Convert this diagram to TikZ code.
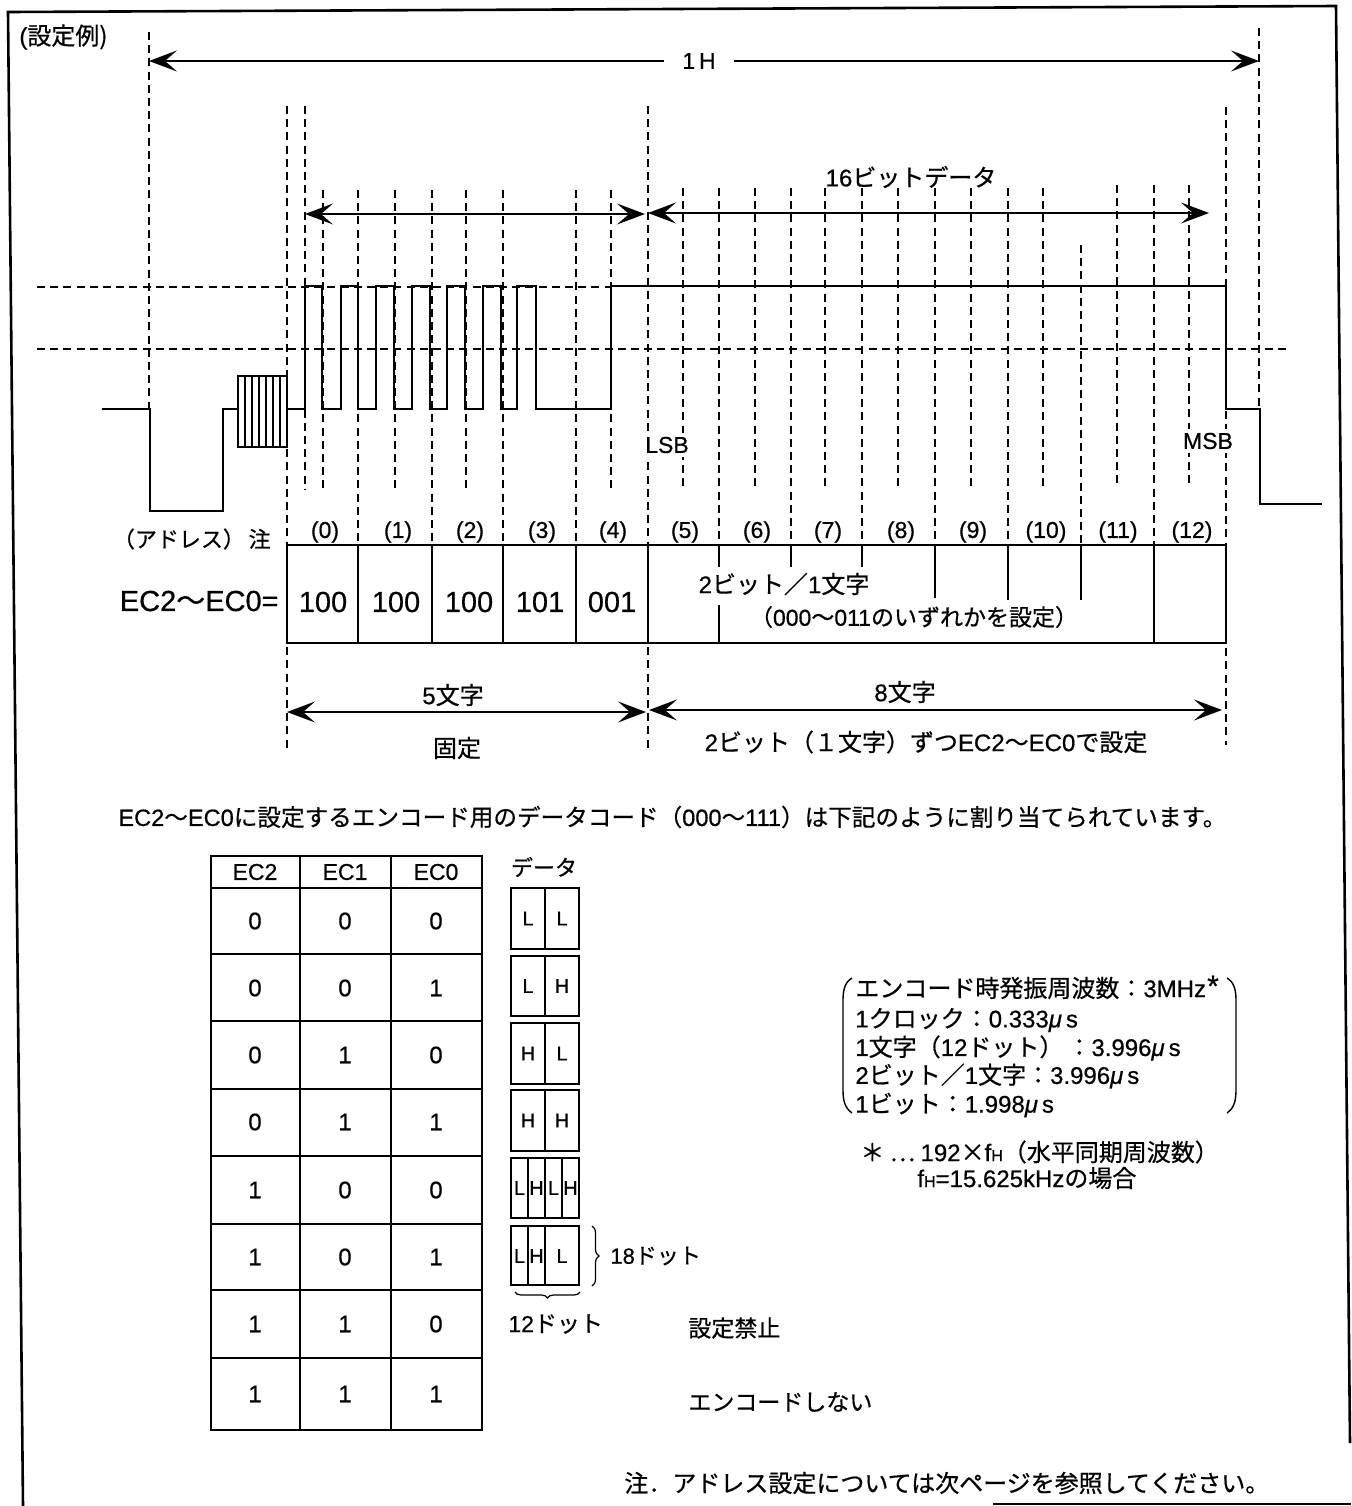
\documentclass[tikz,border=0pt]{standalone}
\usepackage{fontspec}
\setmainfont[FakeBold=0.6]{Liberation Sans}
\newfontfamily\jp[FakeBold=0.6]{Noto Sans CJK JP}
\usetikzlibrary{arrows.meta,decorations.pathreplacing}
\newcommand\fz[1]{\fontsize{#1pt}{#1pt}\selectfont}
\begin{document}
\begin{tikzpicture}[x=0.5pt,y=-0.5pt,
  dsh/.style={line width=0.7pt, dash pattern=on 4pt off 2.6pt},
  wave/.style={line width=1.4pt, line join=miter},
  arr/.style={line width=0.9pt, {Stealth[length=14pt,width=10.5pt,inset=6pt]}-{Stealth[length=14pt,width=10.5pt,inset=6pt]}},
  arrone/.style={line width=0.9pt, -{Stealth[length=14pt,width=10.5pt,inset=6pt]}},
  tbl/.style={line width=1.1pt},
  txt/.style={inner sep=0pt, font=\fz{12}},
  jtxt/.style={inner sep=0pt, font=\jp\fz{12}},
  cell/.style={inner sep=0pt, font=\fz{10}}]
\useasboundingbox (0,0) rectangle (1351,1506);

% frame
\draw[line width=1.3pt] (23,1506) -- (8,12) -- (1336,6) -- (1350,1443);
\draw[line width=1.3pt] (993,1504) -- (1351,1504);

\node[txt, anchor=west] (title) at (19,37) {(\jp 設定例)};

% dashed vertical grid
\foreach \x/\a/\b in {149/32/409, 287/106/750, 305/106/490, 323/190/490, 358/190/545,
  395/190/490, 432/190/545, 466/190/490, 503/190/545, 576/190/545, 611/190/490,
  648/106/752, 683/188/488, 719/188/545, 755/188/488, 791/188/545, 825/188/488,
  862/188/545, 898/188/488, 935/188/545, 971/188/488, 1008/188/545, 1043/188/488,
  1081/245/545, 1117/185/488, 1154/185/545, 1189/185/488, 1226/107/745, 1259/28/409}
  \draw[dsh] (\x,\a) -- (\x,\b);

% horizontal dashed levels
\draw[dsh] (37,287) -- (611,287);
\draw[dsh] (37,349) -- (1287,349);

% waveform
\draw[wave] (102,409) -- (150,409) -- (150,511) -- (223,511) -- (223,409) -- (238,409);
\draw[wave] (238,376) rectangle (287,447);
\foreach \x in {245,252,259,266,273,280} \draw[line width=0.8pt] (\x,376) -- (\x,447);
\draw[wave] (287,409) -- (305,409) -- (305,286) -- (322,286) -- (322,409)
  -- (341,409) -- (341,286) -- (358,286) -- (358,409)
  -- (376,409) -- (376,286) -- (394,286) -- (394,409)
  -- (412,409) -- (412,286) -- (430,286) -- (430,409)
  -- (447,409) -- (447,286) -- (465,286) -- (465,409)
  -- (483,409) -- (483,286) -- (501,286) -- (501,409)
  -- (517,409) -- (517,286) -- (536,286) -- (536,409)
  -- (611,409) -- (611,286) -- (1226,286) -- (1226,409)
  -- (1260,409) -- (1260,504) -- (1322,504);

% 1H arrow
\node[inner xsep=9pt, inner ysep=0pt, font=\fz{11.5}] (h1) at (699,61) {1\,H};
\draw[arrone] (h1.west) -- (149,61);
\draw[arrone] (h1.east) -- (1259,61);

% 16 bit data
\node[txt] (sixteen) at (911,177) {16{\jp ビットデータ}};
\draw[arr] (305,214) -- (645,214);
\draw[arr] (648,213) -- (1209,213);

\node[fill=white, inner xsep=1pt, inner ysep=2pt, font=\fz{11.5}] (lsb) at (667,445) {LSB};
\node[fill=white, inner xsep=1pt, inner ysep=2pt, font=\fz{11.5}] (msb) at (1208,441) {MSB};

% EC row
\node[inner sep=0pt, font=\jp\fz{11}, anchor=east] (addr) at (271,539) {（アドレス）\,注};
\node[inner sep=0pt, font=\fz{14.5}, anchor=east] (eclbl) at (279,601) {EC2{\jp 〜}EC0=};

\draw[tbl] (287,545) rectangle (1226,643);
\foreach \x in {358,432,503,576,648,1154} \draw[tbl] (\x,545) -- (\x,643);
\draw[tbl] (719,545) -- (719,567);
\draw[tbl] (719,605) -- (719,643);
\draw[tbl] (791,545) -- (791,567);
\draw[tbl] (862,545) -- (862,567);
\draw[tbl] (935,545) -- (935,598);
\draw[tbl] (1008,545) -- (1008,600);
\draw[tbl] (1081,545) -- (1081,600);

\foreach \i/\x in {0/325,1/398,2/470,3/542,4/613,5/685,6/757,7/828,8/901,9/973,10/1046,11/1118,12/1192}
  \node[inner sep=0pt, font=\fz{11.5}] (c\i) at (\x,532) {(\i)};
\foreach \i/\v/\x in {0/100/323,1/100/396,2/100/469,3/101/540,4/001/612}
  \node[inner sep=0pt, font=\fz{14.5}] (v\i) at (\x,602) {\v};

\node[txt] (twobit) at (784,584) {2{\jp ビット／}1{\jp 文字}};
\node[inner sep=0pt, font=\fz{11.5}] (setrange) at (914,617) {{\jp （}000{\jp 〜}011{\jp のいずれかを設定）}};

% 5 / 8 characters
\draw[arr] (287,712) -- (646,712);
\draw[arr] (649,710) -- (1222,710);
\node[txt] (five) at (453,695) {5{\jp 文字}};
\node[jtxt] (fixed) at (457,748) {固定};
\node[txt] (eight) at (905,692) {8{\jp 文字}};
\node[txt] (eachset) at (926,742) {2{\jp ビット（１文字）ずつ}EC2{\jp 〜}EC0{\jp で設定}};

% sentence
\node[inner sep=0pt, font=\fz{11.8}, anchor=west] (sentence) at (118,817)
  {EC2{\jp 〜}EC0{\jp に設定するエンコード用のデータコード（}000{\jp 〜}111{\jp ）は下記のように割り当てられています。}};

% code table
\draw[tbl] (211,856) rectangle (482,1430);
\draw[tbl] (300,856) -- (300,1430);
\draw[tbl] (391,856) -- (391,1430);
\foreach \y in {888,954,1021,1089,1156,1224,1290,1358} \draw[tbl] (211,\y) -- (482,\y);
\node[inner sep=0pt, font=\fz{11.5}] (h2) at (255,872) {EC2};
\node[inner sep=0pt, font=\fz{11.5}] (h1b) at (345,872) {EC1};
\node[inner sep=0pt, font=\fz{11.5}] (h0) at (436,872) {EC0};
\foreach \r/\a/\b/\c/\y in {0/0/0/0/921, 1/0/0/1/988, 2/0/1/0/1055, 3/0/1/1/1122,
  4/1/0/0/1190, 5/1/0/1/1257, 6/1/1/0/1324, 7/1/1/1/1394} {
  \node[txt] (ra\r) at (255,\y) {\a};
  \node[txt] (rb\r) at (345,\y) {\b};
  \node[txt] (rc\r) at (436,\y) {\c};
}

% data boxes
\node[inner sep=0pt, font=\jp\fz{11}] (datalbl) at (544,867) {データ};
\foreach \i/\t/\b/\l/\r in {1/888/949/L/L, 2/956/1016/L/H, 3/1023/1084/H/L, 4/1090/1151/H/H} {
  \draw[tbl] (511,\t) rectangle (579,\b);
  \draw[tbl] (545,\t) -- (545,\b);
  \node[cell] (dl\i) at (528,{(\t+\b)/2}) {\l};
  \node[cell] (dr\i) at (562,{(\t+\b)/2}) {\r};
}
\draw[tbl] (511,1158) rectangle (579,1218);
\foreach \x in {528,545,562} \draw[tbl] (\x,1158) -- (\x,1218);
\node[cell] (e1) at (519.5,1188) {L};
\node[cell] (e2) at (536.5,1188) {H};
\node[cell] (e3) at (553.5,1188) {L};
\node[cell] (e4) at (570.5,1188) {H};
\draw[tbl] (511,1226) rectangle (579,1285);
\foreach \x in {528,545} \draw[tbl] (\x,1226) -- (\x,1285);
\node[cell] (f1) at (519.5,1256) {L};
\node[cell] (f2) at (536.5,1256) {H};
\node[cell] (f3) at (562,1256) {L};

\draw[line width=0.6pt, decorate, decoration={brace, amplitude=3.5pt}] (592,1226) -- (592,1286);
\draw[line width=0.6pt, decorate, decoration={brace, amplitude=3pt}] (580,1292) -- (515,1292);
\node[inner sep=0pt, font=\fz{11}, anchor=west] (dot18) at (610,1256) {18{\jp ドット}};
\node[inner sep=0pt, font=\fz{11.5}, anchor=west] (dot12) at (508,1324) {12{\jp ドット}};
\node[jtxt, font=\jp\fz{11.5}, anchor=west] (forbid) at (688,1328) {設定禁止};
\node[jtxt, font=\jp\fz{11.5}, anchor=west] (noenc) at (688,1402) {エンコードしない};

% bracket block
\draw[line width=0.7pt] (852,978) .. controls (845,982) and (843,990) .. (843,1000) -- (843,1090) .. controls (843,1101) and (845,1108) .. (852,1113);
\draw[line width=0.7pt] (1227,978) .. controls (1234,982) and (1236,990) .. (1236,1000) -- (1236,1090) .. controls (1236,1101) and (1234,1108) .. (1227,1113);
\node[txt, anchor=west] (b1) at (855,988) {{\jp エンコード時発振周波数：}3MHz};
\node[inner sep=0pt, font=\fz{15}] (star) at (1213,986) {*};
\node[txt, anchor=west] (b2) at (855,1020) {1{\jp クロック：}0.333{\itshape μ}\,s};
\node[txt, anchor=west] (b3) at (855,1048) {1{\jp 文字（}12{\jp ドット）\,：}3.996{\itshape μ}\,s};
\node[txt, anchor=west] (b4) at (855,1076) {2{\jp ビット／}1{\jp 文字：}3.996{\itshape μ}\,s};
\node[txt, anchor=west] (b5) at (855,1105) {1{\jp ビット：}1.998{\itshape μ}\,s};
\node[txt, anchor=west] (fn1) at (860,1152) {{\jp ＊ … }192{\jp ×}f{\fz{8}H}{\jp （水平同期周波数）}};
\node[txt, anchor=west] (fn2) at (917,1178) {f{\fz{8}H}=15.625kHz{\jp の場合}};

% bottom note
\node[jtxt, anchor=west] (note) at (624,1483) {注．アドレス設定については次ページを参照してください。};
\end{tikzpicture}
\end{document}
